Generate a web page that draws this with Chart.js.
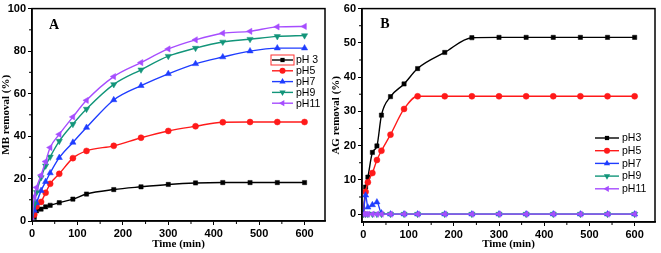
<!DOCTYPE html>
<html>
<head>
<meta charset="utf-8">
<script src="https://cdn.jsdelivr.net/npm/chart.js@4.4.1/dist/chart.umd.min.js"></script>
<style>
  html, body { margin: 0; padding: 0; background: #fff; }
  #wrap { position: relative; width: 661px; height: 253px; }
  #chartA { position: absolute; left: 0; top: 0; }
  #chartB { position: absolute; left: 330px; top: 0; }
</style>
</head>
<body>
<div id="wrap">
  <canvas id="chartA" width="330" height="253"></canvas>
  <canvas id="chartB" width="331" height="253"></canvas>
</div>
<script>
// ========
// Data
// ========
const times = [0, 5, 10, 20, 30, 40, 60, 90, 120, 180, 240, 300, 360, 420, 480, 540, 600];
const xTicks = [0, 100, 200, 300, 400, 500, 600];
const yTicksA = [0, 20, 40, 60, 80, 100];
const yTicksB = [0, 10, 20, 30, 40, 50, 60];
const labelsA = ["pH 3", "pH5", "pH7", "pH9", "pH11"];
const labelsB = ["pH3", "pH5", "pH7", "pH9", "pH11"];

// Panel A: MB removal (%)
const mbPH3  = [0, 1.7, 4.8, 5.6, 6.7, 7.4, 8.6, 10.3, 12.7, 14.8, 16.1, 17.2, 17.9, 18.1, 18.1, 18.1, 18.1];
const mbPH5  = [0, 3.0, 6.8, 9.0, 13.3, 17.5, 22.2, 29.6, 33.0, 35.4, 39.2, 42.4, 44.6, 46.5, 46.6, 46.6, 46.6];
const mbPH7  = [0, 5.0, 8.5, 14.3, 18.5, 22.6, 29.8, 37.0, 44.0, 57.0, 63.7, 69.3, 74.0, 77.2, 80.0, 81.4, 81.4];
const mbPH9  = [0, 8.0, 13.5, 20.5, 26.0, 30.2, 37.6, 45.6, 52.7, 64.3, 71.2, 77.6, 81.4, 84.3, 85.6, 86.9, 87.3];
const mbPH11 = [0, 11.5, 15.8, 21.6, 28.0, 34.6, 40.8, 49.0, 56.8, 68.0, 74.6, 81.0, 85.3, 88.4, 89.3, 91.4, 91.6];

// Panel B: AG removal (%)
const agPH3  = [0, 7.9, 10.8, 18.0, 19.9, 28.9, 34.3, 38.0, 42.5, 47.2, 51.5, 51.6, 51.6, 51.6, 51.6, 51.6, 51.6];
const agPH5  = [0, 6.5, 9.3, 12.0, 15.8, 18.5, 23.2, 30.7, 34.4, 34.4, 34.4, 34.4, 34.4, 34.4, 34.4, 34.4, 34.4];
const agPH7  = [0, 5.5, 2.0, 2.7, 3.5, 0.3, 0, 0, 0, 0, 0, 0, 0, 0, 0, 0, 0];
const agPH9  = [0, 0, 0, 0, 0, 0, 0, 0, 0, 0, 0, 0, 0, 0, 0, 0, 0];
const agPH11 = [0, 0, 0, 0, 0, 0, 0, 0, 0, 0, 0, 0, 0, 0, 0, 0, 0];

// ========
// Styles
// ========
const seriesStyle = [
    { color: "#000000", pointStyle: "rect", rotation: 0, radius: 3 },
    { color: "#ff1a1a", pointStyle: "circle", rotation: 0, radius: 3 },
    { color: "#1f3dff", pointStyle: "triangle", rotation: 0, radius: 3.6 },
    { color: "#12957a", pointStyle: "triangle", rotation: 180, radius: 3.6 },
    { color: "#a64dff", pointStyle: "triangle", rotation: -90, radius: 3.6 }
];

const tickFont = { family: "'Liberation Sans', Arial, sans-serif", size: 11, weight: "bold" };
const titleFont = { family: "'Liberation Serif', 'Times New Roman', serif", size: 11, weight: "bold" };

function makeDatasets(labels, values) {
    return values.map((vals, i) => {
        const s = seriesStyle[i];
        return {
            label: labels[i],
            data: times.map((t, k) => ({ x: t, y: vals[k] })),
            borderColor: s.color,
            backgroundColor: s.color,
            borderWidth: 1.4,
            pointStyle: s.pointStyle,
            pointRotation: s.rotation,
            pointRadius: s.radius,
            pointBorderWidth: 0.5,
            cubicInterpolationMode: "monotone",
            order: 5 - i   // last series drawn on top
        };
    });
}

// Box frame, minor ticks, panel letter and inner legend
const framePlugin = {
    id: "frame",
    afterDraw(chart, args, opts) {
        const { ctx, chartArea: a, scales } = chart;
        ctx.save();
        ctx.strokeStyle = "#000";
        ctx.lineWidth = 1.5;
        ctx.strokeRect(a.left, a.top, a.right - a.left, a.bottom - a.top);

        // minor ticks (outward)
        ctx.lineWidth = 1;
        ctx.beginPath();
        opts.xMinor.forEach(v => {
            const px = scales.x.getPixelForValue(v);
            ctx.moveTo(px, a.bottom);
            ctx.lineTo(px, a.bottom + 3);
        });
        opts.yMinor.forEach(v => {
            const py = scales.y.getPixelForValue(v);
            ctx.moveTo(a.left, py);
            ctx.lineTo(a.left - 3, py);
        });
        ctx.stroke();

        // panel letter
        ctx.fillStyle = "#000";
        ctx.font = "bold 14px 'Liberation Serif', 'Times New Roman', serif";
        ctx.textAlign = "center";
        ctx.textBaseline = "middle";
        ctx.fillText(opts.letter, opts.letterX, opts.letterY);

        // legend
        ctx.font = "10.5px 'Liberation Sans', Arial, sans-serif";
        ctx.textAlign = "left";
        chart.data.datasets.forEach((ds, i) => {
            const y = opts.legY + i * opts.legStep;
            const x0 = opts.legX, x1 = opts.legX + opts.legLen;
            ctx.strokeStyle = ds.borderColor;
            ctx.lineWidth = 1.4;
            ctx.beginPath();
            ctx.moveTo(x0, y);
            ctx.lineTo(x1, y);
            ctx.stroke();
            ctx.fillStyle = ds.backgroundColor;
            Chart.helpers.drawPoint(ctx, {
                pointStyle: ds.pointStyle,
                rotation: ds.pointRotation,
                radius: ds.pointRadius,
                borderWidth: 0
            }, (x0 + x1) / 2, y);
            ctx.fillStyle = "#000";
            ctx.fillText(ds.label, x1 + 3, y + 0.5);
        });
        if (opts.legBox) {
            ctx.strokeStyle = "#ff3030";
            ctx.lineWidth = 1;
            ctx.strokeRect(opts.legX - 1, opts.legY - 5, opts.legLen + 2, 10);
        }
        ctx.restore();
    }
};

function makeChart(el, cfg) {
    const minorX = [50, 150, 250, 350, 450, 550];
    return new Chart(document.getElementById(el), {
        type: "line",
        data: { datasets: makeDatasets(cfg.labels, cfg.values) },
        options: {
            responsive: false,
            animation: false,
            devicePixelRatio: 1,
            layout: { padding: { left: 0, top: 6, right: cfg.padRight, bottom: 0 } },
            plugins: {
                legend: { display: false },
                tooltip: { enabled: false },
                frame: Object.assign({ xMinor: minorX }, cfg.frame)
            },
            scales: {
                x: {
                    type: "linear",
                    min: cfg.xMin, max: 645,
                    afterBuildTicks: s => { s.ticks = xTicks.map(v => ({ value: v })); },
                    afterFit: s => { s.height = cfg.xHeight; },
                    ticks: { color: "#000", font: tickFont, padding: 2, maxRotation: 0 },
                    grid: { drawOnChartArea: false, drawTicks: true, tickLength: 4, color: "#000", lineWidth: 1 },
                    border: { display: true, color: "#000", width: 1.5 },
                    title: { display: true, text: "Time (min)", color: "#000", font: titleFont, padding: { top: 0, bottom: 2 } }
                },
                y: {
                    min: cfg.yMin, max: cfg.yMax,
                    afterBuildTicks: s => { s.ticks = cfg.yTicks.map(v => ({ value: v })); },
                    afterFit: s => { s.width = 32; },
                    ticks: { color: "#000", font: tickFont, padding: 2 },
                    grid: { drawOnChartArea: false, drawTicks: true, tickLength: 4, color: "#000", lineWidth: 1 },
                    border: { display: true, color: "#000", width: 1.5 },
                    title: { display: true, text: cfg.yTitle, color: "#000", font: titleFont, padding: { top: 0, bottom: 0 } }
                }
            }
        },
        plugins: [framePlugin]
    });
}

makeChart("chartA", {
    labels: labelsA,
    values: [mbPH3, mbPH5, mbPH7, mbPH9, mbPH11],
    xMin: 0, yMin: 0, yMax: 100, yTicks: yTicksA,
    yTitle: "MB removal (%)",
    padRight: 5, xHeight: 32,
    frame: {
        yMinor: [10, 30, 50, 70, 90],
        letter: "A", letterX: 54, letterY: 25,
        legX: 272, legY: 60, legStep: 10.8, legLen: 21, legBox: true
    }
});

makeChart("chartB", {
    labels: labelsB,
    values: [agPH3, agPH5, agPH7, agPH9, agPH11],
    xMin: -3, yMin: -2.3, yMax: 60, yTicks: yTicksB,
    yTitle: "AG removal (%)",
    padRight: 6, xHeight: 31,
    frame: {
        yMinor: [5, 15, 25, 35, 45, 55],
        letter: "B", letterX: 55, letterY: 24,
        legX: 265, legY: 138, legStep: 12.7, legLen: 24, legBox: false
    }
});
</script>
</body>
</html>
